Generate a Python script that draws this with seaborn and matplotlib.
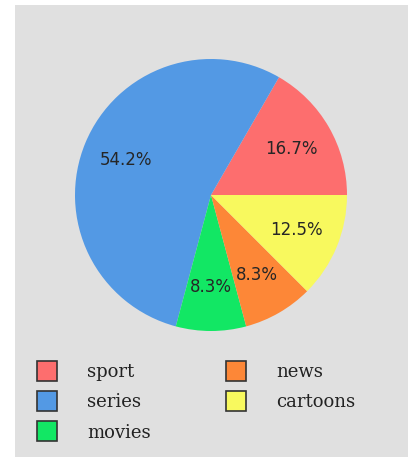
import matplotlib
matplotlib.use("Agg")
import matplotlib.pyplot as plt
import seaborn as sns
from matplotlib.lines import Line2D
from matplotlib.patches import Rectangle

# data
categories = ["sport", "series", "movies", "news", "cartoons"]
counts = [4, 13, 2, 2, 3]
colors = ["#fd6e6e", "#5399e4", "#12e764", "#fd8737", "#f8f95e"]

sns.set_theme(style="white")

W, H = 408, 457
fig = plt.figure(figsize=(W / 100, H / 100), dpi=100)
fig.patch.set_facecolor("white")

# gray panel
fig.patches.append(Rectangle((15 / W, 0), 1, (H - 5) / H, transform=fig.transFigure,
                             facecolor="#e0e0e0", edgecolor="none", zorder=-5))

# pie axes: centre (211,195), radius 136 px
cx, cy, r = 211, 195, 136
ax = fig.add_axes([(cx - r) / W, (H - cy - r) / H, 2 * r / W, 2 * r / H])
ax.set_zorder(2)
ax.set_facecolor("none")
ax.pie(counts, colors=colors, startangle=0, counterclock=True,
       autopct="%.1f%%", pctdistance=0.68,
       textprops={"fontsize": 12, "color": "#262626", "family": "DejaVu Sans"},
       wedgeprops={"linewidth": 0})
ax.set_xlim(-1, 1)
ax.set_ylim(-1, 1)
ax.set_aspect("equal")
ax.axis("off")

handles = [Line2D([], [], linestyle="none", marker="s", markersize=15,
                  markerfacecolor=c, markeredgecolor="#333333", markeredgewidth=1.2)
           for c in colors]
leg = fig.legend(handles, categories, ncol=2, loc="upper left",
                 bbox_to_anchor=(34 / W, 1 - 363 / H), frameon=False,
                 prop={"family": "DejaVu Serif", "size": 13},
                 handlelength=1.4, handletextpad=1.55, columnspacing=4.0,
                 labelspacing=0.68, borderpad=0, borderaxespad=0)
for t in leg.get_texts():
    t.set_color("#222222")
leg.set_zorder(3)

fig.savefig("out.png", dpi=100, facecolor=fig.get_facecolor())
